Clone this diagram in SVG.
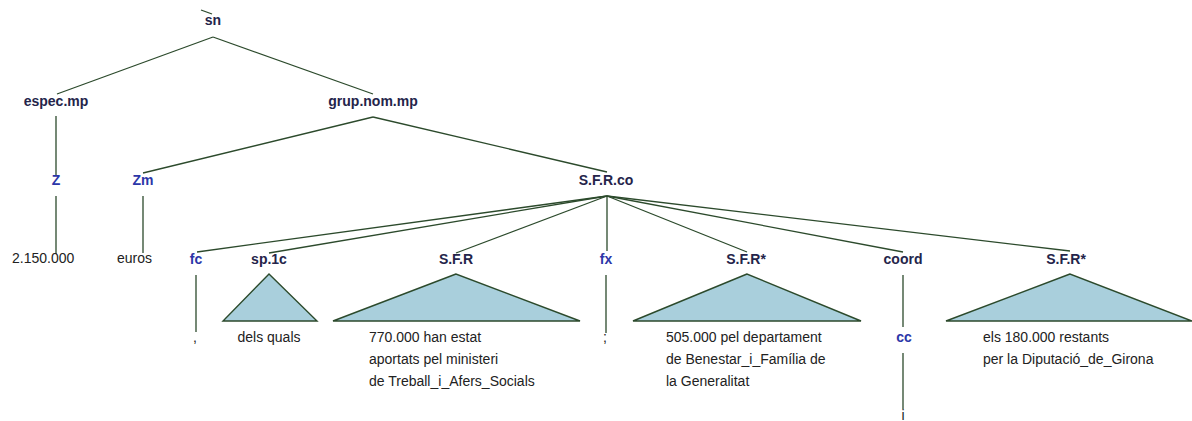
<svg xmlns="http://www.w3.org/2000/svg" width="1192" height="421" viewBox="0 0 1192 421">
<style>
.bg{fill:#ffffff}
.cat{font-family:"Liberation Sans",Arial,sans-serif;font-size:14px;font-weight:bold;fill:#24244a;text-anchor:middle}
.posb{font-family:"Liberation Sans",Arial,sans-serif;font-size:14px;font-weight:bold;fill:#2b36a8;text-anchor:middle}
.leaf{font-family:"Liberation Sans",Arial,sans-serif;font-size:14px;fill:#222222}
.leafc{font-family:"Liberation Sans",Arial,sans-serif;font-size:14px;fill:#222222;text-anchor:middle}
.edge{stroke:#2c4a2c;stroke-width:1.3;fill:none}
.tri{fill:#a9cfdc;stroke:#2c4a2c;stroke-width:1.4;stroke-linejoin:miter}
</style>
<rect class="bg" x="0" y="0" width="1192" height="421"/>
<g id="connectors">
<line class="edge" x1="201" y1="10" x2="212" y2="14"/>
<line class="edge" x1="213" y1="37" x2="57" y2="94"/>
<line class="edge" x1="213" y1="37" x2="373" y2="94"/>
<line class="edge" x1="56" y1="116" x2="56" y2="175"/>
<line class="edge" x1="56" y1="196" x2="56" y2="254"/>
<line class="edge" x1="373" y1="117" x2="143" y2="173"/>
<line class="edge" x1="373" y1="117" x2="607" y2="172"/>
<line class="edge" x1="143" y1="196" x2="143" y2="253"/>
<line class="edge" x1="607" y1="196" x2="197" y2="252"/>
<line class="edge" x1="607" y1="196" x2="269" y2="253"/>
<line class="edge" x1="607" y1="196" x2="456" y2="253"/>
<line class="edge" x1="607" y1="196" x2="607" y2="251"/>
<line class="edge" x1="607" y1="196" x2="747" y2="252"/>
<line class="edge" x1="607" y1="196" x2="903" y2="252"/>
<line class="edge" x1="607" y1="196" x2="1070" y2="251"/>
<line class="edge" x1="196" y1="275" x2="196" y2="332"/>
<line class="edge" x1="606" y1="275" x2="606" y2="333"/>
<line class="edge" x1="903" y1="275" x2="903" y2="327"/>
<line class="edge" x1="903" y1="353" x2="903" y2="409"/>
</g>
<g id="n-sn"><text class="cat" x="213" y="25">sn</text></g>
<g id="n-espec"><text class="cat" x="56" y="106">espec.mp</text></g>
<g id="n-grup"><text class="cat" x="373" y="106">grup.nom.mp</text></g>
<g id="n-Z"><text class="posb" x="56" y="185">Z</text></g>
<g id="n-Zm"><text class="posb" x="143" y="185">Zm</text></g>
<g id="n-sfrco"><text class="cat" x="606" y="185">S.F.R.co</text></g>
<g id="n-2150000"><text class="leaf" x="12" y="263">2.150.000</text></g>
<g id="n-euros"><text class="leaf" x="117" y="263">euros</text></g>
<g id="n-fc"><text class="posb" x="196" y="264">fc</text></g>
<g id="n-comma"><text class="leafc" x="195" y="342">,</text></g>
<g id="n-sp1c">
<text class="cat" x="269" y="264">sp.1c</text>
<polygon class="tri" points="269,274 223,321 317,321"/>
<text class="leafc" x="269" y="342">dels quals</text>
</g>
<g id="n-sfr1">
<text class="cat" x="456" y="264">S.F.R</text>
<polygon class="tri" points="456,274 333,321 580,321"/>
<text class="leaf" x="369" y="342">770.000 han estat</text>
<text class="leaf" x="369" y="364">aportats pel ministeri</text>
<text class="leaf" x="369" y="386">de Treball_i_Afers_Socials</text>
</g>
<g id="n-fx"><text class="posb" x="606" y="264">fx</text></g>
<g id="n-semicolon"><text class="leafc" x="605" y="342">;</text></g>
<g id="n-sfr2">
<text class="cat" x="746" y="264">S.F.R*</text>
<polygon class="tri" points="747,274 633,321 861,321"/>
<text class="leaf" x="666" y="342">505.000 pel departament</text>
<text class="leaf" x="666" y="364">de Benestar_i_Família de</text>
<text class="leaf" x="666" y="386">la Generalitat</text>
</g>
<g id="n-coord"><text class="cat" x="903" y="264">coord</text></g>
<g id="n-cc"><text class="posb" x="904" y="342">cc</text></g>
<g id="n-i"><text class="leafc" x="903" y="420">i</text></g>
<g id="n-sfr3">
<text class="cat" x="1066" y="264">S.F.R*</text>
<polygon class="tri" points="1070,274 946,321 1192,321"/>
<text class="leaf" x="983" y="342">els 180.000 restants</text>
<text class="leaf" x="983" y="364">per la Diputació_de_Girona</text>
</g>
</svg>
